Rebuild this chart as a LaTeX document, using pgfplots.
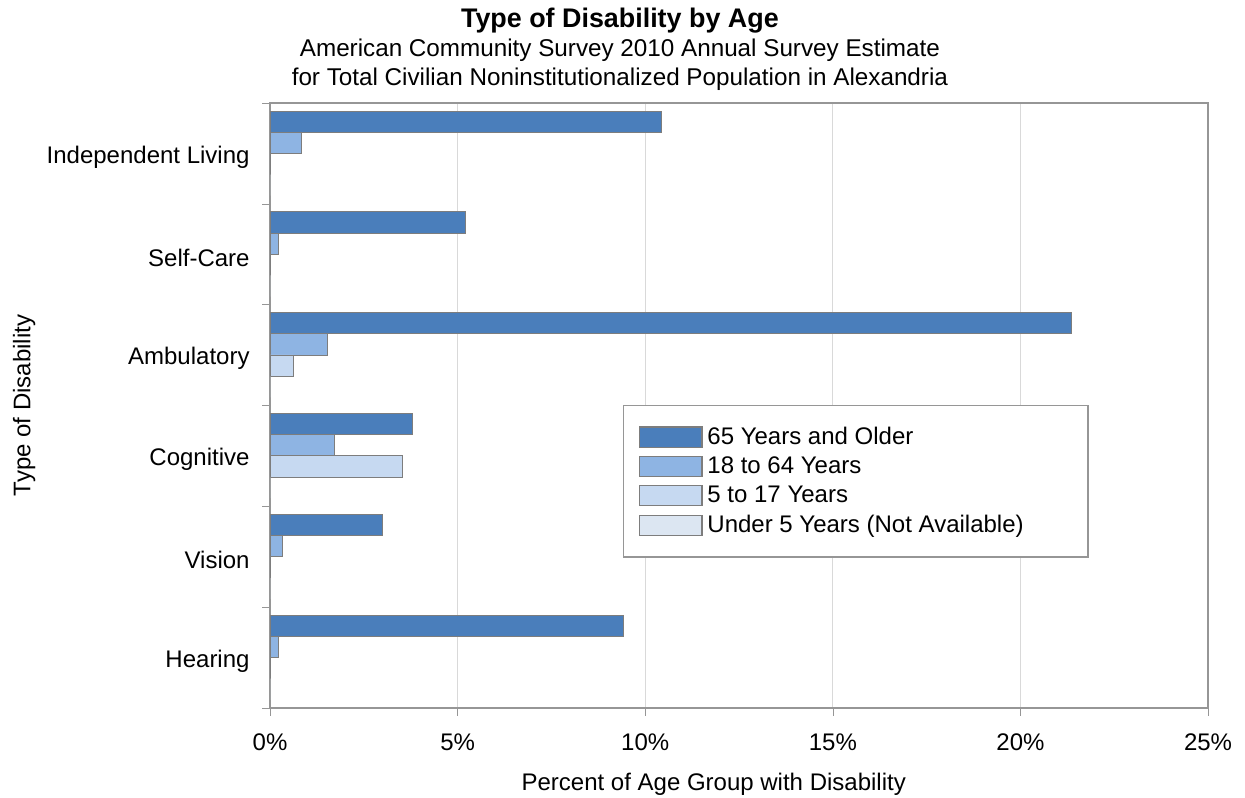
\documentclass[border=0pt]{standalone}
\usepackage{pgfplots}
\pgfplotsset{compat=1.18}
\usepackage{pgfplotstable}
\usepackage{fontspec}
\setmainfont{Liberation Sans}
\usetikzlibrary{calc}

\definecolor{cOld}{RGB}{74,126,187}
\definecolor{cAdult}{RGB}{142,180,227}
\definecolor{cChild}{RGB}{198,217,241}
\definecolor{cBaby}{RGB}{220,230,242}
\definecolor{edge}{RGB}{125,125,125}
\definecolor{frame}{RGB}{150,150,150}
\definecolor{gridc}{RGB}{217,217,217}

% y: 5 = Independent Living ... 0 = Hearing
\pgfplotstableread{
y  old    adult  child  baby
5  10.42  0.83   0      0
4  5.22   0.22   0      0
3  21.35  1.52   0.62   0
2  3.81   1.73   3.52   0
1  3.01   0.32   0      0
0  9.42   0.23   0      0
}\disab

\begin{document}
\begin{tikzpicture}
\begin{axis}[
    xbar,
    scale only axis,
    width=390.8pt, height=252pt,
    xmin=0, xmax=25,
    ymin=-0.5, ymax=5.5,
    bar width=0.21,
    xtick={0,5,...,25},
    xticklabel={\pgfmathprintnumber{\tick}\%},
    ytick={-0.5,0.5,...,5.5},
    yticklabels={},
    extra y ticks={0,...,5},
    extra y tick labels={Hearing,Vision,Cognitive,Ambulatory,Self-Care,Independent Living},
    extra y tick style={tick style={draw=none}},
    major tick length=3.3pt,
    tick style={draw=frame},
    tick align=outside,
    xtick pos=bottom, ytick pos=left,
    xmajorgrids,
    major grid style={draw=gridc, line width=0.5pt},
    axis line style={draw=frame, line width=0.6pt},
    /pgf/number format/assume math mode=true,
    every tick label/.append style={font=\fontsize{10}{12}\selectfont},
    xticklabel style={yshift=-4pt},
    yticklabel style={xshift=-1.7pt, yshift=-1.5pt},
    xlabel={Percent of Age Group with Disability},
    ylabel={Type of Disability},
    xlabel style={at={(axis description cs:0.473,0)}, anchor=center, yshift=-32pt,
        font=\fontsize{10}{12}\selectfont},
    ylabel style={at={(axis description cs:-0.262,0.5)}, anchor=center,
        font=\fontsize{10}{12}\selectfont},
    title={\textbf{\fontsize{11.2}{12}\selectfont Type of Disability by Age}\\
        American Community Survey 2010 Annual Survey Estimate\\
        for Total Civilian Noninstitutionalized Population in Alexandria},
    title style={at={(axis description cs:0.373,1)}, anchor=south, yshift=-1pt,
        inner sep=0pt, align=center, font=\fontsize{10.1}{12}\selectfont},
    legend style={at={(axis description cs:0.376,0.501)}, anchor=north west,
        draw=frame, line width=0.6pt, inner xsep=6.5pt, inner ysep=6.8pt,
        font=\fontsize{10}{12}\selectfont, row sep=-0.3pt},
    legend cell align=left,
    legend image code/.code={%
        \draw[#1, draw=edge, line width=0.5pt] (0pt,-4.2pt) rectangle (26pt,4.2pt);},
]
\addplot[fill=cOld, draw=edge, line width=0.4pt, bar shift=0.315] table[x=old, y=y] {\disab};
\addplot[fill=cAdult, draw=edge, line width=0.4pt, bar shift=0.105] table[x=adult, y=y] {\disab};
\addplot[fill=cChild, draw=edge, line width=0.4pt, bar shift=-0.105] table[x=child, y=y] {\disab};
\addplot[fill=cBaby, draw=none, bar shift=-0.315] table[x=baby, y=y] {\disab};
\legend{65 Years and Older, 18 to 64 Years, 5 to 17 Years,
    \makebox[150pt][l]{Under 5 Years (Not Available)}}
\coordinate (bl) at (rel axis cs:0,0);
\end{axis}
\pgfresetboundingbox
\path ($(bl)+(-112.5pt,-37.5pt)$) rectangle ($(bl)+(406.2pt,294.9pt)$);
\end{tikzpicture}
\end{document}
